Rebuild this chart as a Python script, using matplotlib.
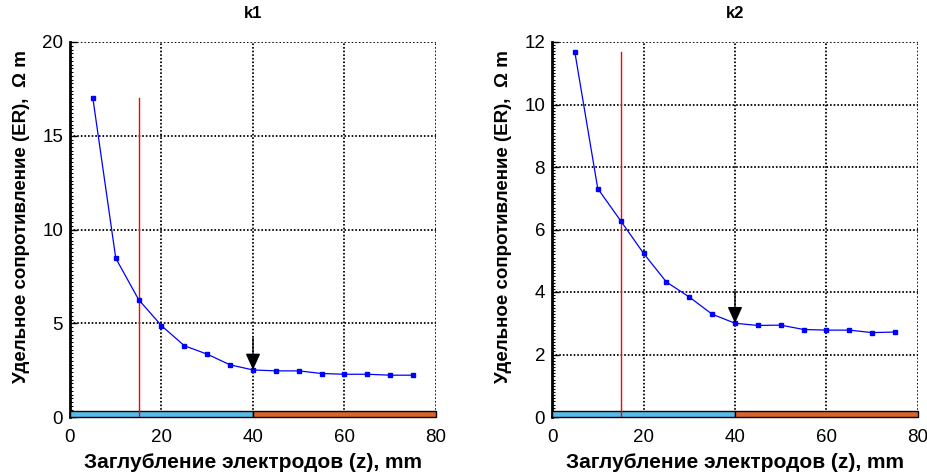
import matplotlib
matplotlib.use('Agg')
import matplotlib.pyplot as plt
import matplotlib.patches as mpatches
import matplotlib.transforms as mtransforms
from matplotlib.ticker import MultipleLocator

# ---- data ----
depth = [5, 10, 15, 20, 25, 30, 35, 40, 45, 50, 55, 60, 65, 70, 75]
er_k1 = [17.0, 8.47, 6.26, 4.87, 3.80, 3.35, 2.78, 2.51, 2.46, 2.46,
         2.32, 2.28, 2.28, 2.23, 2.23]
er_k2 = [11.67, 7.31, 6.28, 5.24, 4.32, 3.84, 3.29, 3.00, 2.93, 2.94,
         2.80, 2.78, 2.78, 2.70, 2.72]
titles = ['k1', 'k2']
ymax = [20, 12]
ystep = [5, 2]
yminor = [0.2, 0.1]
red_x = 15          # vertical red marker
arrow_x = 40        # arrow marks this depth
layer_edges = [0, 40, 80]
layer_colors = ['#56BDEA', '#D9632D']

xlabel = 'Заглубление электродов (z), mm'
ylabel = 'Удельное сопротивление (ER),  Ω m'

plt.rcParams['font.family'] = ['Liberation Sans', 'DejaVu Sans']

fig = plt.figure(figsize=(9.28, 4.76), dpi=100, facecolor='white')
lefts = [70 / 928, 552 / 928]
width = 366 / 928
bottom = 59 / 476
height = 375 / 476

for i, vals in enumerate([er_k1, er_k2]):
    ax = fig.add_axes([lefts[i], bottom, width, height])
    ax.set_xlim(0, 80)
    ax.set_ylim(0, ymax[i])
    ax.xaxis.set_major_locator(MultipleLocator(20))
    ax.yaxis.set_major_locator(MultipleLocator(ystep[i]))
    ax.yaxis.set_minor_locator(MultipleLocator(yminor[i]))

    ax.grid(True, color='black', linestyle=(0, (0.9, 1.1)), linewidth=1.3)
    ax.set_axisbelow(True)

    for s in ['top', 'right']:
        ax.spines[s].set_visible(False)
    ax.spines['left'].set_linewidth(2)
    ax.spines['bottom'].set_linewidth(1.2)

    ax.tick_params(axis='y', which='major', direction='in', length=5,
                   width=1, labelsize=13.5, pad=5)
    ax.tick_params(axis='y', which='minor', direction='in', length=2.5,
                   width=0.8)
    ax.tick_params(axis='x', direction='in', length=0, labelsize=13.5, pad=9)

    # layer band along the bottom
    trans = mtransforms.blended_transform_factory(ax.transData, ax.transAxes)
    for j in range(len(layer_colors)):
        rect = mpatches.Rectangle((layer_edges[j], 0.0),
                                  layer_edges[j + 1] - layer_edges[j], 0.015,
                                  transform=trans, facecolor=layer_colors[j],
                                  edgecolor='black', linewidth=1.0,
                                  zorder=3, clip_on=False)
        ax.add_patch(rect)

    # red vertical line up to the maximum value
    ax.plot([red_x, red_x], [0, max(vals)], color='#FF0000', linewidth=1.0,
            zorder=4)

    # data curve
    ax.plot(depth, vals, color='#0000FF', linewidth=0.9, marker='s',
            markersize=3.0, zorder=5)

    # arrow pointing at the chosen depth
    yv = vals[depth.index(arrow_x)]
    ax.annotate('', xy=(arrow_x, yv), xytext=(arrow_x, yv + 0.085 * ymax[i]),
                arrowprops=dict(arrowstyle='-|>,head_length=1.0,head_width=0.45',
                                color='black', linewidth=1.0,
                                shrinkA=0, shrinkB=0),
                zorder=6)

    ax.set_title(titles[i], fontsize=12, fontweight='bold', pad=17)
    ax.set_xlabel(xlabel, fontsize=15, fontweight='bold', labelpad=5)
    ax.set_ylabel(ylabel, fontsize=13.5, fontweight='bold')
    ax.yaxis.set_label_coords(-0.11, 0.535)

fig.savefig('out.png', dpi=100, facecolor='white')
